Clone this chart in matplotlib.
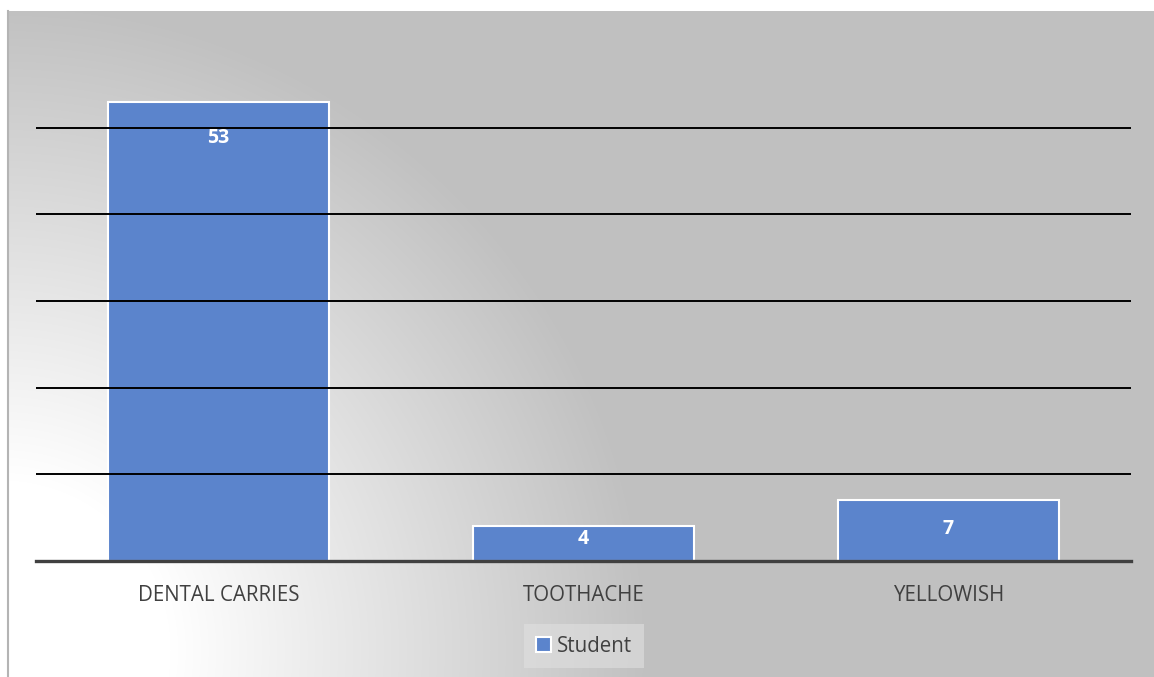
import numpy as np
import matplotlib.pyplot as plt

plt.rcParams['font.family'] = ['Open Sans', 'DejaVu Sans']

# data
categories = ['DENTAL CARRIES', 'TOOTHACHE', 'YELLOWISH']
student = [53, 4, 7]
label_offsets = [-26, -9, -21]  # label shift below bar top, in points

W, H = 1154, 677
fig = plt.figure(figsize=(W / 100, H / 100), dpi=100)
fig.patch.set_facecolor('white')

# gradient background of the chart area (light corner bottom-left)
x0, y0 = 7, 11
bg = fig.add_axes([x0 / W, 0, 1 - x0 / W, (H - y0) / H])
xx, yy = np.meshgrid(np.arange(x0, W), np.arange(y0, H))
r = np.hypot(xx - 0, yy - 650)
f = np.clip((650 - r) / 480, 0, 1)
g = (192 + 63 * f) / 255
bg.imshow(np.dstack([g, g, g]), aspect='auto', interpolation='bilinear')
bg.axis('off')
fig.add_artist(plt.Line2D([8 / W, 8 / W], [0, (H - y0) / H], color='#b4b4b4', lw=1.5))

ax = fig.add_axes([36 / W, (H - 561) / H, (1131 - 36) / W, (561 - 41) / H])
ax.patch.set_alpha(0)

x = np.arange(len(categories))
bars = ax.bar(x, student, width=0.605, color='#5b84cc', edgecolor='white',
              linewidth=1.5, label='Student', zorder=2)

for xi, v, off in zip(x, student, label_offsets):
    ax.annotate(str(v), (xi, v), xytext=(0, off), textcoords='offset points',
                ha='center', va='center', color='white', fontsize=14,
                fontweight='bold', zorder=3)

ax.set_xlim(-0.5, 2.5)
ax.set_ylim(0, 60)
for yv in range(10, 60, 10):
    ax.axhline(yv, color='black', lw=1.4, zorder=4)
ax.axhline(0, color='#404040', lw=2.4, zorder=5, clip_on=False)

ax.set_yticks([])
ax.set_xticks(x)
ax.set_xticklabels(categories, fontsize=14.8, color='#404040')
ax.tick_params(axis='x', length=0, pad=17)
for s in ax.spines.values():
    s.set_visible(False)

leg = ax.legend(loc='center', bbox_to_anchor=(584 / W, (H - 646) / H),
                bbox_transform=fig.transFigure, frameon=True, fontsize=14.8,
                handlelength=0.75, handleheight=0.75, handletextpad=0.3,
                borderpad=0.55, fancybox=False, labelcolor='#404040')
leg.get_frame().set_facecolor('#e0e0e0')
leg.get_frame().set_alpha(0.6)
leg.get_frame().set_edgecolor('none')

fig.savefig('out.png', dpi=100)
